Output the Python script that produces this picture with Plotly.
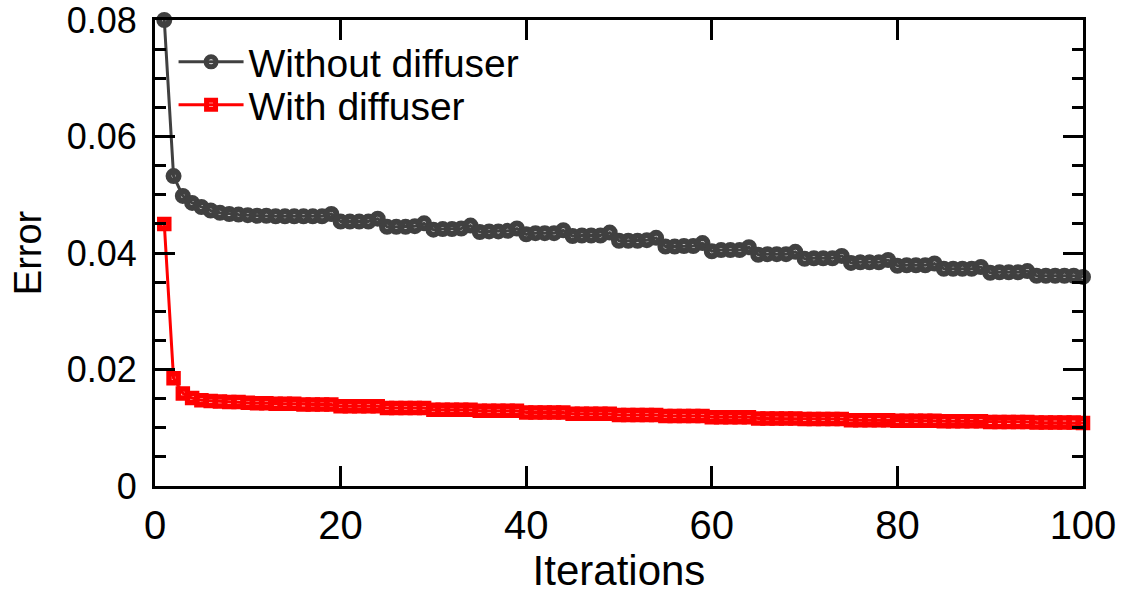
import plotly.graph_objects as go

# Iteration index
iterations = list(range(1, 101))

# Reconstruction error without the diffuser
error_without = [
    0.0800, 0.0532, 0.0498, 0.0486, 0.0479, 0.0473, 0.0469, 0.0467, 0.0466, 0.0465,
    0.0464, 0.0464, 0.0463, 0.0463, 0.0463, 0.0463, 0.0463, 0.0463, 0.0467, 0.0454,
    0.0454, 0.0454, 0.0454, 0.0459, 0.0445, 0.0445, 0.0445, 0.0446, 0.0451, 0.0440,
    0.0441, 0.0441, 0.0442, 0.0447, 0.0436, 0.0437, 0.0437, 0.0438, 0.0442, 0.0432,
    0.0434, 0.0434, 0.0434, 0.0439, 0.0429, 0.0430, 0.0430, 0.0430, 0.0435, 0.0421,
    0.0421, 0.0421, 0.0422, 0.0426, 0.0411, 0.0411, 0.0412, 0.0412, 0.0417, 0.0403,
    0.0405, 0.0405, 0.0405, 0.0410, 0.0397, 0.0398, 0.0398, 0.0398, 0.0402, 0.0390,
    0.0391, 0.0391, 0.0391, 0.0395, 0.0383, 0.0384, 0.0384, 0.0384, 0.0388, 0.0378,
    0.0379, 0.0379, 0.0379, 0.0382, 0.0373, 0.0373, 0.0373, 0.0373, 0.0376, 0.0366,
    0.0367, 0.0367, 0.0367, 0.0369, 0.0361, 0.0361, 0.0361, 0.0361, 0.0361, 0.0359,
]

# Reconstruction error with the diffuser
error_with = [
    0.0450, 0.0185, 0.0159, 0.0151, 0.0147, 0.0146, 0.0145, 0.0144, 0.0144, 0.0143,
    0.0142, 0.0142, 0.0141, 0.0141, 0.0141, 0.0140, 0.0140, 0.0140, 0.0140, 0.0137,
    0.0137, 0.0137, 0.0137, 0.0137, 0.0134, 0.0134, 0.0134, 0.0134, 0.0134, 0.0131,
    0.0131, 0.0131, 0.0131, 0.0131, 0.0129, 0.0129, 0.0129, 0.0129, 0.0129, 0.0126,
    0.0126, 0.0126, 0.0126, 0.0126, 0.0124, 0.0124, 0.0124, 0.0124, 0.0124, 0.0122,
    0.0122, 0.0122, 0.0122, 0.0122, 0.0120, 0.0120, 0.0120, 0.0120, 0.0120, 0.0118,
    0.0118, 0.0118, 0.0118, 0.0118, 0.0116, 0.0116, 0.0116, 0.0116, 0.0116, 0.0115,
    0.0115, 0.0115, 0.0115, 0.0115, 0.0113, 0.0113, 0.0113, 0.0113, 0.0113, 0.0112,
    0.0112, 0.0112, 0.0112, 0.0112, 0.0111, 0.0111, 0.0111, 0.0111, 0.0111, 0.0110,
    0.0110, 0.0110, 0.0110, 0.0110, 0.0109, 0.0109, 0.0109, 0.0109, 0.0109, 0.0108,
]

# Axis ticks
x_tick_vals = [0, 20, 40, 60, 80, 100]
x_tick_text = ["0", "20", "40", "60", "80", "100"]
y_tick_vals = [0, 0.02, 0.04, 0.06, 0.08]
y_tick_text = ["0", "0.02", "0.04", "0.06", "0.08"]

FONT = "Liberation Sans, Arial, Helvetica, sans-serif"
GRAY = "#404040"
RED = "#ff0000"
CLEAR = "rgba(0,0,0,0)"

fig = go.Figure()
fig.add_trace(go.Scatter(
    x=iterations, y=error_without, mode="lines+markers", name="Without diffuser",
    line=dict(color=GRAY, width=3),
    marker=dict(symbol="circle", size=10, color=CLEAR, line=dict(width=6, color=GRAY)),
    cliponaxis=False, legend="legend",
))
fig.add_trace(go.Scatter(
    x=iterations, y=error_with, mode="lines+markers", name="With diffuser",
    line=dict(color=RED, width=3),
    marker=dict(symbol="square", size=9, color=CLEAR, line=dict(width=5.5, color=RED)),
    cliponaxis=False, legend="legend2",
))

axis_common = dict(
    showline=True, linecolor="black", linewidth=3, mirror="ticks",
    ticks="inside", ticklen=20, tickwidth=3, tickcolor="black",
    showgrid=False, zeroline=False, ticklabeloverflow="allow", automargin=False,
)

fig.update_xaxes(
    range=[0, 100], tickmode="array", tickvals=x_tick_vals, ticktext=x_tick_text,
    tickfont=dict(family=FONT, size=40, color="black"),
    title=dict(text="Iterations", font=dict(family=FONT, size=42, color="black"), standoff=6),
    ticklabelstandoff=2,
    **axis_common,
)
fig.update_yaxes(
    range=[0, 0.08], tickmode="array", tickvals=y_tick_vals, ticktext=y_tick_text,
    tickfont=dict(family=FONT, size=36, color="black"),
    title=dict(text="Error", font=dict(family=FONT, size=38, color="black"), standoff=14),
    ticklabelstandoff=8,
    minor=dict(dtick=0.005, ticks="inside", ticklen=11, tickwidth=3, tickcolor="black", showgrid=False),
    **axis_common,
)

legend_common = dict(
    xanchor="left", yanchor="middle", bgcolor="rgba(0,0,0,0)", borderwidth=0,
    font=dict(family=FONT, size=39, color="black"), itemwidth=65,
    tracegroupgap=0,
)

fig.update_layout(
    width=1123, height=594,
    margin=dict(l=155, r=40, t=20, b=108, autoexpand=False),
    paper_bgcolor="white", plot_bgcolor="white",
    showlegend=True,
    legend=dict(x=0.02, y=(486 - 62) / 466, **legend_common),
    legend2=dict(x=0.02, y=(486 - 105) / 466, **legend_common),
)

fig.write_html("out.html")
